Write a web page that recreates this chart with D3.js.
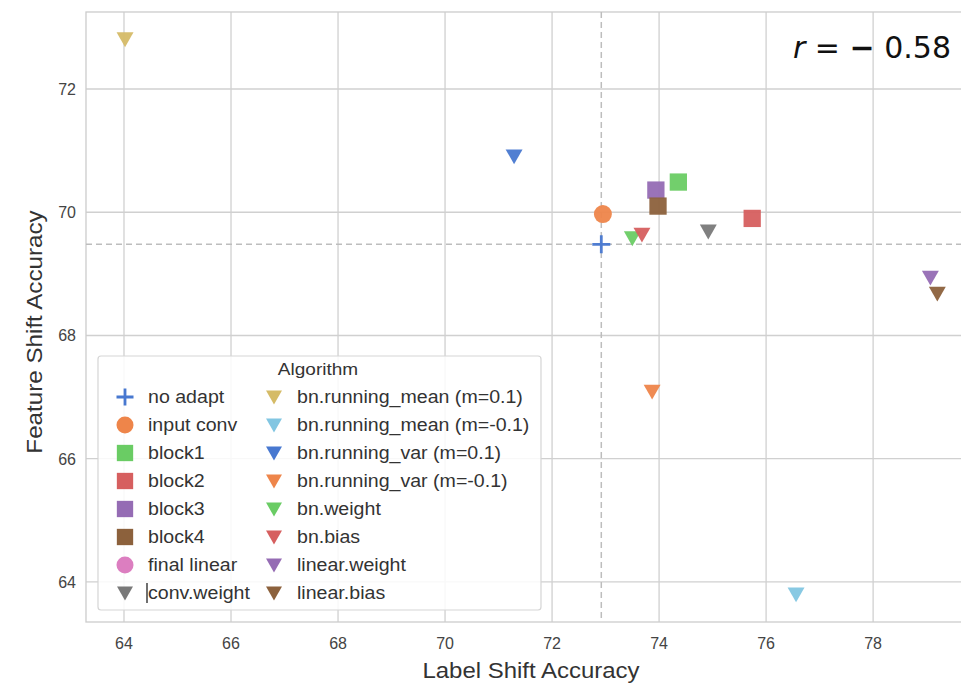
<!DOCTYPE html>
<html>
<head>
<meta charset="utf-8">
<script src="https://cdn.jsdelivr.net/npm/d3@7"></script>
<style>
  body { margin: 0; background: #fff; }
  svg text { font-family: "Liberation Sans", Arial, sans-serif; }
</style>
</head>
<body>
<div id="chart"></div>
<script>
const width = 961;
const height = 684;

// Algorithm names, in legend / hue order
const algorithms = [
    "no adapt", "input conv", "block1", "block2", "block3", "block4",
    "final linear", "conv.weight", "bn.running_mean (m=0.1)",
    "bn.running_mean (m=-0.1)", "bn.running_var (m=0.1)",
    "bn.running_var (m=-0.1)", "bn.weight", "bn.bias",
    "linear.weight", "linear.bias"
];
const markers = [
    "plus", "circle", "square", "square", "square", "square",
    "circle", "tri", "tri", "tri", "tri", "tri", "tri", "tri", "tri", "tri"
];
// (final linear has no visible point)
const labelShift = [72.92, 72.95, 74.36, 75.74, 73.94, 73.98, null, 74.92,
    64.02, 76.56, 71.29, 73.87, 73.50, 73.68, 79.07, 79.20];
const featureShift = [69.48, 69.97, 70.49, 69.90, 70.36, 70.10, null, 69.69,
    72.81, 63.80, 70.91, 67.09, 69.58, 69.64, 68.94, 68.68];

const xTicks = [64, 66, 68, 70, 72, 74, 76, 78];
const yTicks = [64, 66, 68, 70, 72];
const rText = "0.58";

// seaborn "muted"
const palette = ["#4878d0", "#ee854a", "#6acc64", "#d65f5f", "#956cb4",
    "#8c613c", "#dc7ec0", "#797979", "#d5bb67", "#82c6e2"];
const color = (i) => palette[i % palette.length];

const x = d3.scaleLinear().domain([63.29, 79.96]).range([86, 978]);
const y = d3.scaleLinear().domain([63.35, 73.25]).range([622, 12]);

const svg = d3
    .select("#chart")
    .append("svg")
    .attr("width", width)
    .attr("height", height);

// stretched text helper
function label(parent, tx, ty, rot, sx, size, fill, anchor, str) {
    return parent.append("text")
        .attr("transform", `translate(${tx},${ty}) rotate(${rot}) scale(${sx},1)`)
        .attr("text-anchor", anchor)
        .attr("font-size", size)
        .attr("fill", fill)
        .text(str);
}

// grid
svg.append("g")
    .selectAll("line")
    .data(xTicks)
    .enter()
    .append("line")
    .attr("x1", (d) => x(d)).attr("x2", (d) => x(d))
    .attr("y1", 12).attr("y2", 622)
    .attr("stroke", "#d0d0d0").attr("stroke-width", 1.3);
svg.append("g")
    .selectAll("line")
    .data(yTicks)
    .enter()
    .append("line")
    .attr("x1", 86).attr("x2", 978)
    .attr("y1", (d) => y(d)).attr("y2", (d) => y(d))
    .attr("stroke", "#d0d0d0").attr("stroke-width", 1.3);

// frame
svg.append("rect")
    .attr("x", 86).attr("y", 12)
    .attr("width", 892).attr("height", 610)
    .attr("fill", "none")
    .attr("stroke", "#cccccc").attr("stroke-width", 1.3);

// tick labels
svg.append("g")
    .selectAll("text")
    .data(xTicks)
    .enter()
    .append("text")
    .attr("x", (d) => x(d)).attr("y", 649)
    .attr("text-anchor", "middle")
    .attr("font-size", 16).attr("fill", "#444")
    .text((d) => d);
svg.append("g")
    .selectAll("text")
    .data(yTicks)
    .enter()
    .append("text")
    .attr("x", 76).attr("y", (d) => y(d) + 6)
    .attr("text-anchor", "end")
    .attr("font-size", 16).attr("fill", "#444")
    .text((d) => d);

label(svg, 531, 678, 0, 1.09, 22, "#333", "middle", "Label Shift Accuracy");
label(svg, 42, 332, -90, 1.1, 22, "#333", "middle", "Feature Shift Accuracy");

// reference lines at no-adapt
svg.append("line")
    .attr("x1", x(labelShift[0])).attr("x2", x(labelShift[0]))
    .attr("y1", 12).attr("y2", 622)
    .attr("stroke", "#bdbdbd").attr("stroke-width", 1.5)
    .attr("stroke-dasharray", "6,4");
svg.append("line")
    .attr("x1", 86).attr("x2", 978)
    .attr("y1", y(featureShift[0])).attr("y2", y(featureShift[0]))
    .attr("stroke", "#bdbdbd").attr("stroke-width", 1.5)
    .attr("stroke-dasharray", "6,4");

// marker drawing
function drawMarker(g, type, fill, s) {
    if (type === "circle") {
        g.append("circle").attr("r", s * 0.5).attr("fill", fill);
    } else if (type === "square") {
        g.append("rect")
            .attr("x", -s * 0.48).attr("y", -s * 0.48)
            .attr("width", s * 0.96).attr("height", s * 0.96)
            .attr("fill", fill);
    } else if (type === "tri") {
        const h = s * 0.47;
        g.append("path")
            .attr("d", `M${-h},${-h * 0.8}L${h},${-h * 0.8}L0,${h * 0.95}Z`)
            .attr("fill", fill);
    } else if (type === "plus") {
        g.append("path")
            .attr("d", `M${-s / 2},0H${s / 2}M0,${-s / 2}V${s / 2}`)
            .attr("stroke", fill).attr("stroke-width", 2.8);
    }
}

const points = algorithms
    .map((name, i) => ({ name, i, lx: labelShift[i], fy: featureShift[i] }))
    .filter((d) => d.lx != null && d.fy != null);

points.forEach((d) => {
    const g = svg.append("g")
        .attr("transform", `translate(${x(d.lx)},${y(d.fy)})`)
        .attr("opacity", 0.95);
    drawMarker(g, markers[d.i], color(d.i), 18);
});

// r annotation
const rt = svg.append("text")
    .attr("x", 951).attr("y", 58)
    .attr("text-anchor", "end")
    .attr("font-size", 30)
    .attr("fill", "#111")
    .style("font-family", "'DejaVu Sans', sans-serif");
rt.append("tspan").attr("font-style", "italic").text("r");
rt.append("tspan").text(" = ");
rt.append("tspan").attr("font-weight", "bold").text("\u2212");
rt.append("tspan").text(" " + rText);

// legend
const legend = svg.append("g");
legend.append("rect")
    .attr("x", 98).attr("y", 356)
    .attr("width", 443).attr("height", 254)
    .attr("rx", 3)
    .attr("fill", "#fff").attr("fill-opacity", 0.85)
    .attr("stroke", "#d5d5d5").attr("stroke-width", 1.2);
label(legend, 318, 375, 0, 1.12, 17, "#333", "middle", "Algorithm");

algorithms.forEach((name, i) => {
    const col = i < 8 ? 0 : 1;
    const row = i % 8;
    const ly = 397 + row * 28;
    const mx = col === 0 ? 125 : 274;
    const g = legend.append("g").attr("transform", `translate(${mx},${ly})`);
    drawMarker(g, markers[i], color(i), 17);
    label(legend, mx + 23, ly + 6, 0, 1.12, 17.5, "#333", "start", name);
});
// stray text cursor before conv.weight
legend.append("line")
    .attr("x1", 147).attr("x2", 147)
    .attr("y1", 583).attr("y2", 603)
    .attr("stroke", "#222").attr("stroke-width", 1.3);
</script>
</body>
</html>
